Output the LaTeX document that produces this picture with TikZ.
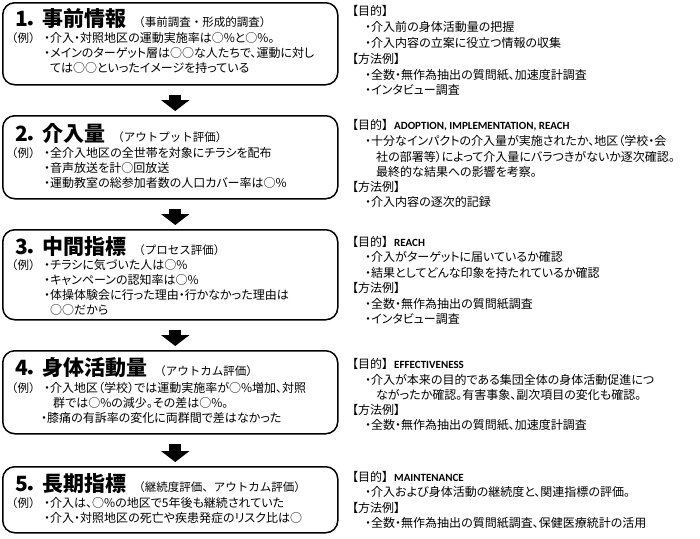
\documentclass[tikz,border=0pt]{standalone}
\usepackage{fontspec}
\usetikzlibrary{arrows.meta}
\newfontfamily\jp{Noto Sans CJK JP}[RawFeature=+palt]
\newfontfamily\jpfull{Noto Sans CJK JP}
\newfontfamily\en{Carlito}
\newcommand{\subt}[1]{\hspace{7pt}{\jpfull\mdseries\fontsize{11.5}{13}\selectfont #1}}
\newcommand{\eng}[1]{\hspace{6pt}{\en\bfseries\fontsize{11}{13}\selectfont #1}}
\tikzset{
  stepbox/.style={draw=black, line width=1.5pt, rounded corners=12pt, minimum width=335pt, anchor=north west, inner sep=0pt},
  steptitle/.style={anchor=west, inner sep=0pt, font=\jp\bfseries\fontsize{21}{24}\selectfont},
  body/.style={anchor=west, inner sep=0pt, font=\jp\fontsize{12}{14}\selectfont},
  exlabel/.style={anchor=west, inner sep=0pt, font=\jpfull\fontsize{11.5}{14}\selectfont},
  downarrow/.style={line width=12pt, -{Triangle[width=28pt,length=11pt]}, shorten <=9pt, shorten >=4pt}
}

\begin{document}
\begin{tikzpicture}[x=1pt, y=-1pt]
                \useasboundingbox (0,0) rectangle (700,538);
                \node[stepbox, minimum height=82pt] (info) at (2,2) {};
                \node[stepbox, minimum height=83pt] (amount) at (2,115) {};
                \node[stepbox, minimum height=90pt] (process) at (2,229) {};
                \node[stepbox, minimum height=83pt] (activity) at (2,350) {};
                \node[stepbox, minimum height=66pt] (longterm) at (2,466) {};
                \draw[downarrow] ([xshift=5pt]info.south) -- ([xshift=5pt]amount.north);
                \draw[downarrow] ([xshift=5pt]amount.south) -- ([xshift=5pt]process.north);
                \draw[downarrow] ([xshift=5pt]process.south) -- ([xshift=5pt]activity.north);
                \draw[downarrow] ([xshift=5pt]activity.south) -- ([xshift=5pt]longterm.north);

                \node[steptitle] (infot) at (15,19) {1．\hspace{4pt}事前情報\subt{（事前調査・形成的調査）}};
                \node[exlabel] (infoex) at (6,38) {（例）};
                \node[body] (infoa) at (44,38) {・介入・対照地区の運動実施率は○\%と○\%。};
                \node[body] (infob) at (44,53) {・メインのターゲット層は○○な人たちで、運動に対し};
                \node[body] (infoc) at (50,68) {ては○○といったイメージを持っている};

                \node[steptitle] (amountt) at (15,133) {2．\hspace{4pt}介入量\subt{（アウトプット評価）}};
                \node[exlabel] (amountex) at (6,153) {（例）};
                \node[body] (amounta) at (44,153) {・全介入地区の全世帯を対象にチラシを配布};
                \node[body] (amountb) at (44,168) {・音声放送を計○回放送};
                \node[body] (amountc) at (44,183) {・運動教室の総参加者数の人口カバー率は○\%};

                \node[steptitle] (processt) at (15,247) {3．\hspace{4pt}中間指標\subt{（プロセス評価）}};
                \node[exlabel] (processex) at (6,265) {（例）};
                \node[body] (processa) at (44,265) {・チラシに気づいた人は○\%};
                \node[body] (processb) at (44,280) {・キャンペーンの認知率は○\%};
                \node[body] (processc) at (44,295) {・体操体験会に行った理由・行かなかった理由は};
                \node[body] (processd) at (50,310) {○○だから};

                \node[steptitle] (activityt) at (15,368) {4．\hspace{4pt}身体活動量\subt{（アウトカム評価）}};
                \node[exlabel] (activityex) at (6,388) {（例）};
                \node[body] (activitya) at (44,388) {・介入地区（学校）では運動実施率が○\%増加、対照};
                \node[body] (activityb) at (53,403) {群では○\%の減少。その差は○\%。};
                \node[body] (activityc) at (41,418) {・膝痛の有訴率の変化に両群間で差はなかった};

                \node[steptitle] (longtermt) at (15,484) {5．\hspace{4pt}長期指標\subt{（継続度評価、アウトカム評価）}};
                \node[exlabel] (longtermex) at (6,503) {（例）};
                \node[body] (longterma) at (44,503) {・介入は、○\%の地区で5年後も継続されていた};
                \node[body] (longtermb) at (44,518) {・介入・対照地区の死亡や疾患発症のリスク比は○};

                \node[body] (infoaim) at (352,11) {【目的】};
                \node[body] (infoaima) at (365,27) {・介入前の身体活動量の把握};
                \node[body] (infoaimb) at (365,43) {・介入内容の立案に役立つ情報の収集};
                \node[body] (infomet) at (352,59) {【方法例】};
                \node[body] (infometa) at (365,75) {・全数・無作為抽出の質問紙、加速度計調査};
                \node[body] (infometb) at (365,90) {・インタビュー調査};

                \node[body] (amountaim) at (352,125) {【目的】\eng{ADOPTION, IMPLEMENTATION, REACH}};
                \node[body] (amountaima) at (365,141) {・十分なインパクトの介入量が実施されたか、地区（学校・会};
                \node[body] (amountaimb) at (376,157) {社の部署等）によって介入量にバラつきがないか逐次確認。};
                \node[body] (amountaimc) at (376,172) {最終的な結果への影響を考察。};
                \node[body] (amountmet) at (352,187) {【方法例】};
                \node[body] (amountmeta) at (365,202) {・介入内容の逐次的記録};

                \node[body] (processaim) at (352,242) {【目的】\eng{REACH}};
                \node[body] (processaima) at (365,257) {・介入がターゲットに届いているか確認};
                \node[body] (processaimb) at (365,273) {・結果としてどんな印象を持たれているか確認};
                \node[body] (processmet) at (352,288) {【方法例】};
                \node[body] (processmeta) at (365,304) {・全数・無作為抽出の質問紙調査};
                \node[body] (processmetb) at (365,319) {・インタビュー調査};

                \node[body] (activityaim) at (352,364) {【目的】\eng{EFFECTIVENESS}};
                \node[body] (activityaima) at (365,380) {・介入が本来の目的である集団全体の身体活動促進につ};
                \node[body] (activityaimb) at (376,395) {ながったか確認。有害事象、副次項目の変化も確認。};
                \node[body] (activitymet) at (352,410) {【方法例】};
                \node[body] (activitymeta) at (365,425) {・全数・無作為抽出の質問紙、加速度計調査};

                \node[body] (longtermaim) at (352,477) {【目的】\eng{MAINTENANCE}};
                \node[body] (longtermaima) at (365,492) {・介入および身体活動の継続度と、関連指標の評価。};
                \node[body] (longtermmet) at (352,508) {【方法例】};
                \node[body] (longtermmeta) at (365,523) {・全数・無作為抽出の質問紙調査、保健医療統計の活用};
\end{tikzpicture}
\end{document}
